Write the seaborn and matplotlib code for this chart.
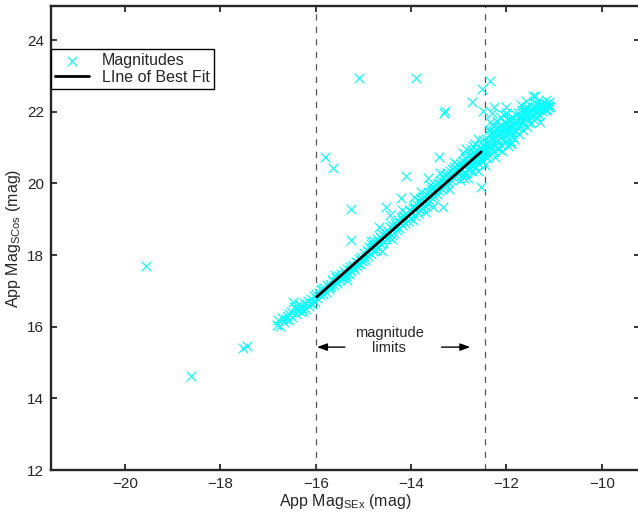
import numpy as np
import pandas as pd
import seaborn as sns
from matplotlib import pyplot as plt

# main band of galaxies (SExtractor mag vs SCos mag)
band_sex = [
    -16.82, -16.78, -16.74, -16.70, -16.66, -16.61, -16.57, -16.52, -16.49, -16.45,
    -16.42, -16.38, -16.35, -16.31, -16.28, -16.24, -16.21, -16.17, -16.14, -16.10,
    -16.07, -16.04, -16.02, -16.47, -16.33,
    -15.97, -15.94, -15.91, -15.88, -15.85, -15.82, -15.79, -15.76, -15.73, -15.70,
    -15.67, -15.64, -15.61, -15.58, -15.55, -15.52, -15.49, -15.46, -15.43, -15.40,
    -15.37, -15.34, -15.31, -15.28, -15.25, -15.22, -15.19, -15.16, -15.13, -15.10,
    -15.07, -15.04, -15.02, -15.60, -15.35,
    -14.98, -14.96, -14.93, -14.91, -14.88, -14.85, -14.83, -14.80, -14.77, -14.74,
    -14.72, -14.69, -14.66, -14.63, -14.61, -14.58, -14.55, -14.52, -14.50, -14.47,
    -14.44, -14.41, -14.39, -14.36, -14.33, -14.30, -14.28, -14.25, -14.22, -14.19,
    -14.16, -14.13, -14.10, -14.07, -14.04, -14.02, -14.85, -14.60, -14.40, -14.20,
    -13.98, -13.96, -13.94, -13.91, -13.89, -13.86, -13.84, -13.81, -13.79, -13.76,
    -13.74, -13.71, -13.69, -13.66, -13.64, -13.61, -13.59, -13.56, -13.54, -13.51,
    -13.49, -13.46, -13.44, -13.41, -13.39, -13.36, -13.34, -13.31, -13.29, -13.26,
    -13.24, -13.21, -13.19, -13.16, -13.14, -13.11, -13.09, -13.06, -13.04, -13.02,
    -13.80, -13.55, -13.40, -13.20, -13.70,
    -12.99, -12.97, -12.96, -12.94, -12.92, -12.90, -12.88, -12.86, -12.85, -12.83,
    -12.81, -12.79, -12.77, -12.75, -12.73, -12.71, -12.69, -12.67, -12.65, -12.63,
    -12.61, -12.59, -12.57, -12.55, -12.53, -12.51, -12.49, -12.47, -12.45, -12.43,
    -12.41, -12.40, -12.92, -12.80, -12.70, -12.60, -12.50, -12.44, -12.85, -12.65,
    -12.38, -12.36, -12.35, -12.33, -12.31, -12.29, -12.27, -12.25, -12.23, -12.21,
    -12.19, -12.17, -12.15, -12.13, -12.11, -12.09, -12.07, -12.05, -12.03, -12.01,
    -11.99, -11.97, -11.95, -11.93, -11.91, -11.89, -11.87, -11.85, -11.83, -11.81,
    -12.30, -12.10, -12.00, -11.90, -12.20, -11.84, -12.26, -12.14, -11.96, -12.37,
    -11.79, -11.77, -11.75, -11.73, -11.71, -11.69, -11.67, -11.65, -11.63, -11.61,
    -11.59, -11.57, -11.55, -11.53, -11.51, -11.49, -11.47, -11.45, -11.43, -11.41,
    -11.39, -11.37, -11.35, -11.33, -11.31, -11.29, -11.26, -11.23, -11.20, -11.17,
    -11.14, -11.11, -11.08, -11.45, -11.60, -11.30,
]
band_scos = [
    16.05, 16.18, 16.02, 16.25, 16.12, 16.30, 16.20, 16.41, 16.28, 16.55,
    16.36, 16.47, 16.62, 16.40, 16.52, 16.66, 16.49, 16.71, 16.58, 16.77,
    16.63, 16.85, 16.70, 16.68, 16.58,
    16.80, 16.95, 16.88, 17.02, 16.90, 17.08, 16.97, 17.15, 17.04, 17.20,
    17.10, 17.28, 17.16, 17.35, 17.22, 17.41, 17.30, 17.47, 17.36, 17.55,
    17.42, 17.60, 17.48, 17.66, 17.55, 17.73, 17.62, 17.80, 17.68, 17.88,
    17.76, 17.95, 17.84, 17.45, 17.30,
    18.05, 17.85, 18.15, 17.98, 18.22, 18.02, 18.30, 18.10, 18.38, 18.15,
    18.44, 18.22, 18.50, 18.30, 18.58, 18.36, 18.64, 18.44, 18.70, 18.50,
    18.78, 18.55, 18.85, 18.62, 18.90, 18.70, 18.98, 18.76, 19.05, 18.84,
    19.10, 18.90, 19.18, 18.96, 19.25, 19.02, 18.40, 18.10, 18.45, 19.25,
    19.20, 18.98, 19.35, 19.10, 19.42, 19.18, 19.50, 19.26, 19.55, 19.30,
    19.62, 19.38, 19.70, 19.45, 19.76, 19.50, 19.83, 19.58, 19.90, 19.64,
    19.95, 19.70, 20.02, 19.78, 20.08, 19.84, 20.15, 19.90, 20.22, 19.96,
    20.28, 20.02, 20.35, 20.08, 20.40, 20.15, 20.46, 20.20, 20.52, 20.26,
    19.75, 19.35, 20.30, 19.85, 19.20,
    20.35, 20.10, 20.55, 20.22, 20.62, 20.30, 20.48, 20.70, 20.28, 20.58,
    20.40, 20.78, 20.45, 20.66, 20.35, 20.85, 20.52, 20.72, 20.45, 20.92,
    20.60, 20.80, 20.55, 21.00, 20.68, 20.88, 20.62, 21.08, 20.75, 20.95,
    21.15, 20.70, 20.85, 20.15, 21.05, 20.35, 21.20, 20.50, 20.95, 21.10,
    21.10, 20.80, 21.35, 20.95, 21.20, 21.45, 20.88, 21.05, 21.30, 21.55,
    21.00, 21.20, 21.40, 21.62, 21.08, 21.28, 21.48, 21.70, 21.15, 21.35,
    21.55, 21.78, 21.22, 21.42, 21.62, 21.85, 21.30, 21.50, 21.70, 21.90,
    21.65, 20.90, 21.95, 21.15, 21.75, 21.25, 21.60, 21.85, 21.05, 21.50,
    21.45, 21.75, 21.95, 21.38, 21.62, 21.85, 22.05, 21.50, 21.72, 21.95,
    22.12, 21.58, 21.82, 22.02, 22.20, 21.68, 21.90, 22.10, 21.78, 22.00,
    22.22, 21.85, 22.08, 22.30, 21.92, 22.15, 22.02, 22.25, 22.10, 22.32,
    22.05, 22.20, 22.12, 22.45, 22.30, 21.70,
]

# second pass over the band, filling the gaps between the first readings
fill_sex = [
    -16.63, -16.55, -16.40, -16.26, -16.12, -15.99, -15.86, -15.72, -15.66, -15.57,
    -15.47, -15.39, -15.29, -15.21, -15.12, -15.06,
    -14.97, -14.90, -14.82, -14.76, -14.68, -14.62, -14.54, -14.46, -14.38, -14.32,
    -14.24, -14.18, -14.12, -14.06,
    -13.97, -13.92, -13.87, -13.82, -13.77, -13.72, -13.67, -13.62, -13.57, -13.52,
    -13.47, -13.42, -13.37, -13.32, -13.27, -13.22, -13.17, -13.12, -13.07, -13.03,
    -12.98, -12.95, -12.91, -12.87, -12.84, -12.80, -12.76, -12.72, -12.68, -12.64,
    -12.62, -12.58, -12.56, -12.52, -12.48, -12.46, -12.42,
    -12.39, -12.34, -12.32, -12.28, -12.24, -12.22, -12.18, -12.16, -12.12, -12.08,
    -12.06, -12.02, -11.98, -11.94, -11.92, -11.88, -11.86, -11.82, -11.80,
    -11.76, -11.74, -11.70, -11.68, -11.64, -11.62, -11.58, -11.54, -11.52, -11.48,
    -11.44, -11.40, -11.36, -11.32, -11.28, -11.24, -11.18, -11.13, -11.10,
    -12.60, -12.75, -12.35, -12.05, -11.70, -11.90, -12.15, -12.90, -13.10, -13.60,
]
fill_scos = [
    16.22, 16.34, 16.50, 16.45, 16.66, 16.92, 17.05, 17.12, 17.30, 17.28,
    17.38, 17.48, 17.58, 17.66, 17.78, 17.85,
    17.95, 18.08, 18.20, 18.25, 18.35, 18.45, 18.52, 18.62, 18.72, 18.80,
    18.88, 18.98, 19.05, 19.10,
    19.30, 19.25, 19.32, 19.40, 19.45, 19.52, 19.58, 19.65, 19.72, 19.78,
    19.85, 19.90, 19.98, 20.05, 20.10, 20.18, 20.22, 20.30, 20.35, 20.40,
    20.45, 20.40, 20.50, 20.58, 20.50, 20.62, 20.58, 20.70, 20.62, 20.78,
    20.70, 20.85, 20.78, 20.95, 20.88, 21.00, 20.90,
    21.22, 21.08, 21.40, 21.25, 21.40, 21.18, 21.35, 21.55, 21.40, 21.58,
    21.25, 21.48, 21.65, 21.50, 21.80, 21.60, 21.40, 21.62, 21.78,
    21.55, 21.85, 21.72, 21.95, 21.82, 22.02, 21.90, 21.70, 21.95, 22.05,
    21.90, 22.12, 21.98, 22.18, 22.05, 22.15, 22.22, 22.12, 22.28,
    21.25, 20.95, 21.70, 21.90, 22.20, 21.10, 20.95, 20.15, 20.60, 19.95,
]

# isolated points away from the band
outlier_sex = [
    -19.56, -18.62, -17.52, -17.43, -15.09, -13.90, -12.34, -12.52, -12.73, -13.29,
    -13.30, -12.50, -12.31, -15.81, -15.63, -15.25, -15.27, -14.11, -13.41, -13.65,
    -14.21, -14.53, -13.34, -12.54, -14.67, -14.44, -13.94, -12.24, -12.26, -11.40,
    -11.19, -12.00,
]
outlier_scos = [
    17.68, 14.61, 15.41, 15.46, 22.93, 22.93, 22.86, 22.62, 22.28, 22.03,
    21.97, 22.03, 21.95, 20.74, 20.42, 19.28, 18.43, 20.21, 20.74, 20.16,
    19.58, 19.34, 19.34, 19.90, 18.79, 19.11, 19.62, 20.74, 22.14, 22.44,
    22.05, 22.14,
]

# line of best fit end points and magnitude limits
fit_sex = [-15.98, -12.53]
fit_scos = [16.83, 20.88]
limit_faint = -16.0
limit_bright = -12.45

df = pd.DataFrame({
    'sex': band_sex + fill_sex + outlier_sex,
    'scos': band_scos + fill_scos + outlier_scos,
})
fit = pd.DataFrame({'sex': fit_sex, 'scos': fit_scos})

sns.set_style('ticks')
plt.rcParams['font.family'] = ['Liberation Sans', 'DejaVu Sans']
plt.rcParams['mathtext.fontset'] = 'custom'
plt.rcParams['mathtext.rm'] = 'Liberation Sans'
plt.rcParams['mathtext.it'] = 'Liberation Sans:italic'

fig = plt.figure(figsize=(6.38, 5.12), dpi=100)
ax = fig.add_axes([51 / 638, 42 / 512, 589 / 638, 464 / 512])

ax.axvline(limit_faint, color='#555555', lw=0.9, ls=(0, (5, 5)), zorder=1)
ax.axvline(limit_bright, color='#555555', lw=0.9, ls=(0, (5, 5)), zorder=1)

sns.scatterplot(data=df, x='sex', y='scos', ax=ax, marker='x', color='#00FFFF',
                s=48, linewidth=0.8, label='Magnitudes', zorder=2)
sns.lineplot(data=fit, x='sex', y='scos', ax=ax, color='black', lw=2,
             label='LIne of Best Fit', zorder=3)

# magnitude limits annotation
arrow_y = 15.43
ax.annotate('', xy=(limit_faint - 0.03, arrow_y), xytext=(-15.33, arrow_y),
            arrowprops=dict(arrowstyle='-|>,head_length=0.6,head_width=0.22', color='black', lw=1))
ax.annotate('', xy=(-12.70, arrow_y), xytext=(-13.42, arrow_y),
            arrowprops=dict(arrowstyle='-|>,head_length=0.6,head_width=0.22', color='black', lw=1))
ax.text(-14.46, 15.62, 'magnitude\nlimits', ha='center', va='center', fontsize=10.5, linespacing=1.1)

ax.set_xlim(-21.55, -9.20)
ax.set_ylim(12, 24.95)
ax.set_xticks([-20, -18, -16, -14, -12, -10])
ax.set_yticks([12, 14, 16, 18, 20, 22, 24])
ax.tick_params(direction='in', top=True, right=True, length=4, width=1.3, labelsize=11, pad=5)
for sp in ax.spines.values():
    sp.set_linewidth(1.7)
    sp.set_visible(True)

ax.set_xlabel('App Mag$_{\\mathrm{SEx}}$ (mag)', fontsize=11.5, labelpad=1)
ax.set_ylabel('App Mag$_{\\mathrm{SCos}}$ (mag)', fontsize=11.5, labelpad=3)

leg = ax.legend(loc='upper left', bbox_to_anchor=(0, (470 - 49) / 464), borderaxespad=0,
                fancybox=False, edgecolor='black', fontsize=11.5, framealpha=1,
                handlelength=2.1, handletextpad=0.85, borderpad=0.25, labelspacing=0.1)
leg.get_frame().set_linewidth(1.0)

fig.savefig('out.png', dpi=100, facecolor='white')
